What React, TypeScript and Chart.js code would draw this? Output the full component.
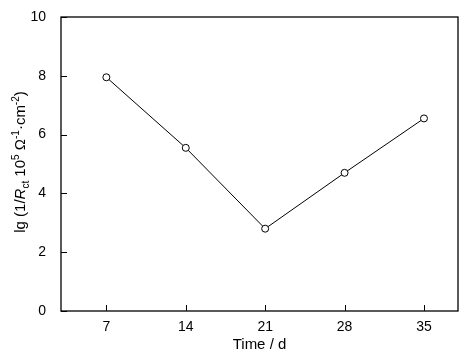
import React, { useEffect, useRef } from "react";
import { Chart, registerables } from "chart.js";

Chart.register(...registerables);

const days = [7, 14, 21, 28, 35];
const values = [7.95, 5.55, 2.8, 4.7, 6.55];
const yTicks = [0, 2, 4, 6, 8, 10];
const xTitle = "Time / d";

const FONT = '"Liberation Sans", Arial, sans-serif';

const framePlugin = {
  id: "framePlugin",
  afterDraw(chart: any) {
    const ctx = chart.ctx;
    const { left, right, top, bottom } = chart.chartArea;
    const xs = chart.scales.x;
    const ys = chart.scales.y;
    ctx.save();
    ctx.strokeStyle = "#000";
    ctx.lineWidth = 1.3;
    ctx.strokeRect(left, top, right - left, bottom - top);
    ctx.lineWidth = 1;
    ctx.beginPath();
    days.forEach((d) => {
      const px = Math.round(xs.getPixelForValue(d)) + 0.5;
      ctx.moveTo(px, bottom);
      ctx.lineTo(px, bottom - 6);
    });
    yTicks.forEach((v) => {
      const py = Math.round(ys.getPixelForValue(v)) + 0.5;
      ctx.moveTo(left, py);
      ctx.lineTo(left + 6, py);
    });
    ctx.stroke();

    // x title
    ctx.fillStyle = "#000";
    ctx.font = `15px ${FONT}`;
    ctx.textAlign = "center";
    ctx.textBaseline = "middle";
    ctx.fillText(xTitle, (left + right) / 2, 345);

    // y title (rich text)
    const parts: { t: string; size: number; italic?: boolean; dy: number }[] = [
      { t: "lg (1/", size: 15, dy: 0 },
      { t: "R", size: 15, italic: true, dy: 0 },
      { t: "ct", size: 10, dy: 4 },
      { t: " 10", size: 15, dy: 0 },
      { t: "5", size: 10, dy: -6 },
      { t: " \u03A9", size: 15, dy: 0 },
      { t: "-1", size: 10, dy: -6 },
      { t: "\u00B7cm", size: 15, dy: 0 },
      { t: "-2", size: 10, dy: -6 },
      { t: ")", size: 15, dy: 0 },
    ];
    const fontOf = (p: any) => `${p.italic ? "italic " : ""}${p.size}px ${FONT}`;
    let total = 0;
    parts.forEach((p) => {
      ctx.font = fontOf(p);
      total += ctx.measureText(p.t).width;
    });
    ctx.translate(20, (top + bottom) / 2 - 2);
    ctx.rotate(-Math.PI / 2);
    ctx.textAlign = "left";
    ctx.textBaseline = "alphabetic";
    let x = -total / 2;
    parts.forEach((p) => {
      ctx.font = fontOf(p);
      ctx.fillText(p.t, x, 5 + p.dy);
      x += ctx.measureText(p.t).width;
    });
    ctx.restore();
  },
};

export default function App() {
  const ref = useRef<HTMLCanvasElement | null>(null);
  useEffect(() => {
    if (!ref.current) return;
    const chart = new Chart(ref.current, {
      type: "line",
      data: {
        datasets: [
          {
            data: days.map((d, i) => ({ x: d, y: values[i] })),
            borderColor: "#000",
            borderWidth: 1,
            pointRadius: 3.5,
            pointBackgroundColor: "#fff",
            pointBorderColor: "#000",
            pointBorderWidth: 1,
            tension: 0,
          },
        ],
      },
      options: {
        responsive: false,
        animation: false,
        layout: { padding: { top: 17, right: 7, left: 0, bottom: 0 } },
        plugins: { legend: { display: false }, tooltip: { enabled: false } },
        scales: {
          x: {
            type: "linear",
            min: 3,
            max: 38,
            afterBuildTicks: (s: any) => {
              s.ticks = days.map((d) => ({ value: d }));
            },
            afterFit: (s: any) => {
              s.height = 49;
            },
            grid: { display: false },
            border: { display: false },
            ticks: {
              padding: 0,
              color: "#000",
              font: { family: FONT, size: 14 },
              maxRotation: 0,
              autoSkip: false,
            },
          },
          y: {
            min: 0,
            max: 10,
            afterBuildTicks: (s: any) => {
              s.ticks = yTicks.map((v) => ({ value: v }));
            },
            afterFit: (s: any) => {
              s.width = 61;
            },
            grid: { display: false },
            border: { display: false },
            ticks: {
              padding: 7,
              color: "#000",
              font: { family: FONT, size: 14 },
            },
          },
        },
      },
      plugins: [framePlugin],
    });
    return () => chart.destroy();
  }, []);
  return (
    <div style={{ position: "absolute", left: 0, top: 0, width: 465, height: 360, background: "#fff" }}>
      <canvas ref={ref} width={465} height={360} />
    </div>
  );
}
